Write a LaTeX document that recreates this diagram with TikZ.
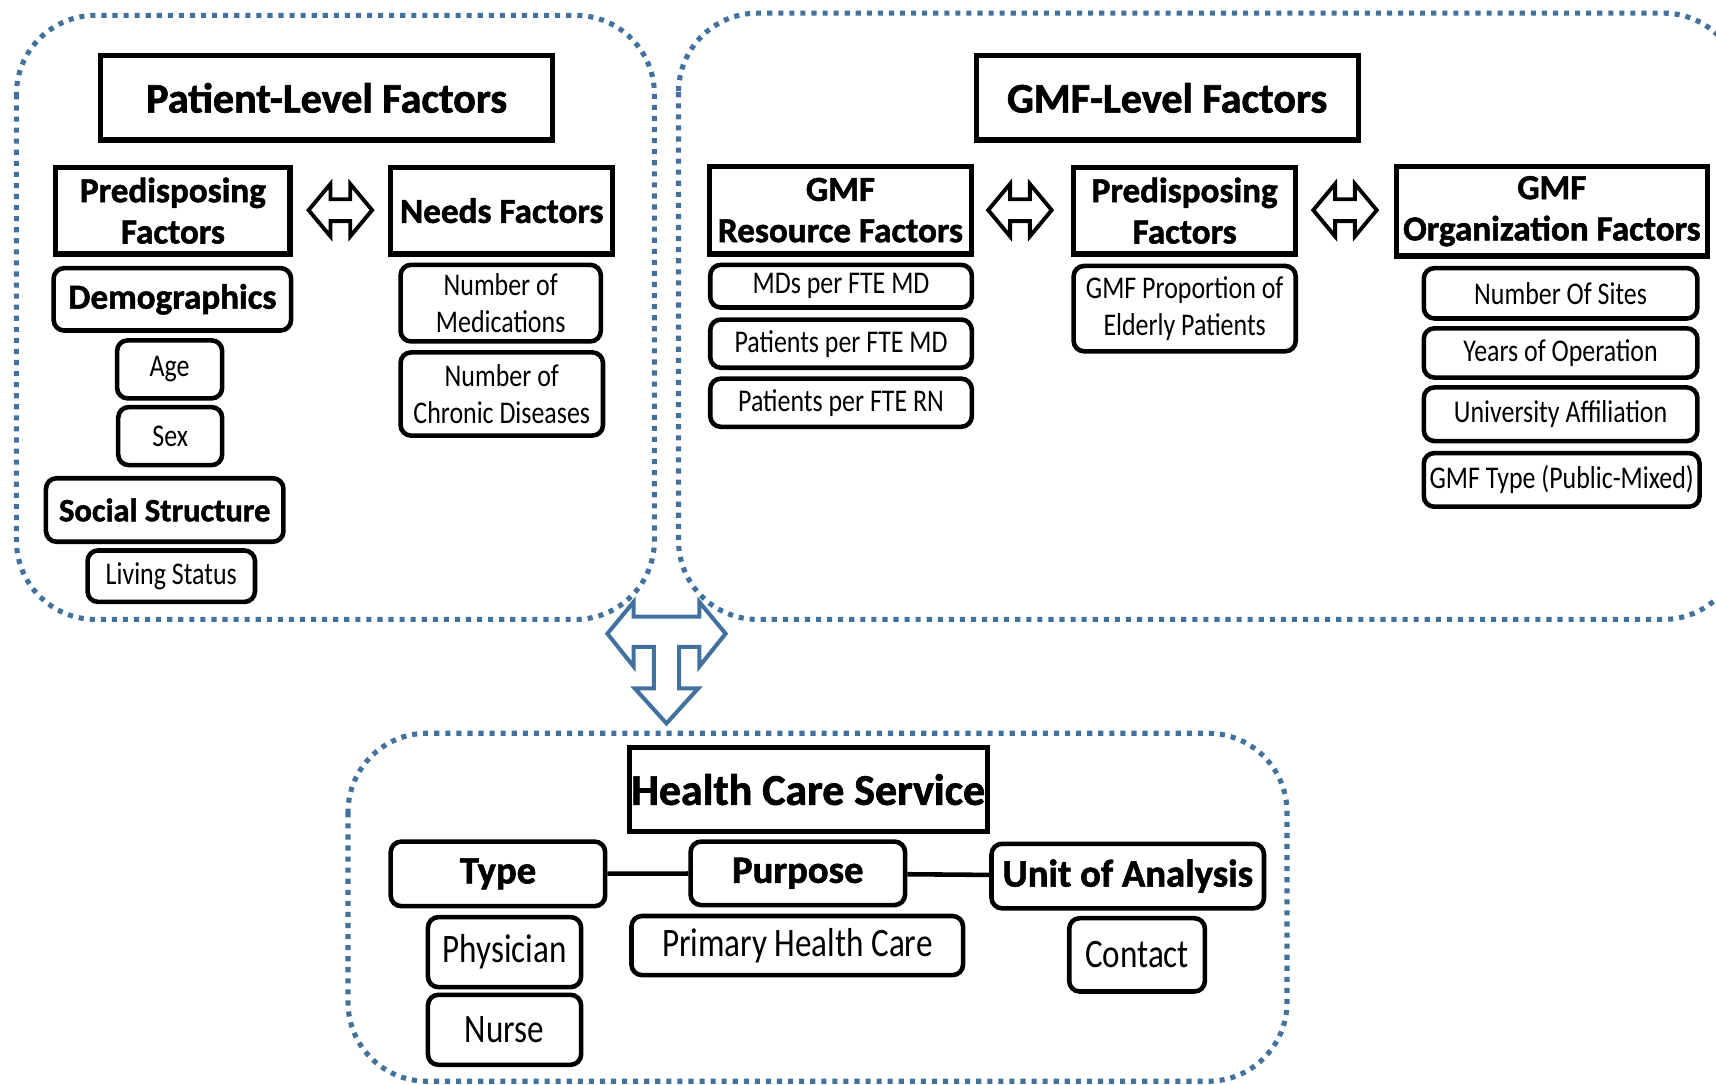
\documentclass[tikz,border=0pt]{standalone}
\usepackage{fontspec}
\setmainfont{Carlito}
\newfontfamily\itemfont{Carlito}[FakeStretch=0.82]
\newfontfamily\headfont{Carlito}[BoldFeatures={FakeBold=1.5}]
\definecolor{regionblue}{RGB}{65,113,156}

\begin{document}
\begin{tikzpicture}[x=0.0219cm, y=-0.0219cm,
  region/.style={draw=regionblue, line width=2.9pt, dash pattern=on 2.9pt off 3.4pt, rounded corners=45pt},
  dims/.style 2 args={minimum width=#1*\unitpx, minimum height=#2*\unitpx},
  titlebox/.style={draw, line width=3pt, inner sep=0pt, font=\headfont\bfseries\fontsize{24}{29}\selectfont},
  groupbox/.style={draw, line width=3pt, inner sep=0pt, align=center, font=\headfont\bfseries\fontsize{20}{23.5}\selectfont},
  subbox/.style={groupbox, rounded corners=6pt, line width=2.6pt},
  itembox/.style={draw, line width=2.6pt, rounded corners=6pt, inner sep=0pt, align=center, font=\itemfont\fontsize{18}{21}\selectfont},
  link/.style={line width=2.6pt}]

\newcommand{\unitpx}{0.0219cm}
\newcommand{\twoway}[1]{%
  \draw[line width=2.2pt, shift={#1}] (-29,0) -- (-9,-24) -- (-9,-10) -- (9,-10) -- (9,-24)
    -- (29,0) -- (9,24) -- (9,10) -- (-9,10) -- (-9,24) -- cycle;}

\useasboundingbox (0,0) rectangle (1568,991);
\clip (0,0) rectangle (1568,991);

% dotted regions
\draw[region] (15,14) rectangle (598,566);
\draw[region] (620,12) rectangle (1592,566);
\draw[region] (318,670) rectangle (1176,988);

% patient level
\node[titlebox, dims={413}{77}] (plf) at (298.5,89.5) {Patient-Level Factors};
\node[groupbox, dims={214}{79}] (ppred) at (158,192.5) {Predisposing\\Factors};
\node[groupbox, dims={203}{79}] (needs) at (458.5,192.5) {Needs Factors};
\twoway{(311,192)}
\node[subbox, dims={217}{57}] (demo) at (157.5,273.5) {Demographics};
\node[itembox, dims={96}{53}] (age) at (155,337.5) {Age};
\node[itembox, dims={95}{53}] (sex) at (155.5,398.5) {Sex};
\node[subbox, dims={217}{58}, font=\headfont\bfseries\fontsize{18.5}{22}\selectfont] (social) at (150.5,466) {Social Structure};
\node[itembox, dims={153}{47}] (living) at (156.5,526.5) {Living Status};
\node[itembox, dims={183}{70}] (nmed) at (457.5,277) {Number of\\Medications};
\node[itembox, dims={185}{76}] (nchron) at (458.5,360) {Number of\\Chronic Diseases};

% gmf level
\node[titlebox, dims={349}{77}] (glf) at (1066.5,89.5) {GMF-Level Factors};
\node[groupbox, dims={240}{80}] (gres) at (768,192) {GMF\\Resource Factors};
\node[groupbox, dims={203}{79}] (gpred) at (1082.5,192.5) {Predisposing\\Factors};
\node[groupbox, dims={284}{82}] (gorg) at (1418,193) {GMF\\Organization Factors};
\twoway{(932,192)}
\twoway{(1229,192)}
\node[itembox, dims={239}{39}] (mds) at (768.5,261.5) {MDs per FTE MD};
\node[itembox, dims={239}{44}] (ppmd) at (768.5,314) {Patients per FTE MD};
\node[itembox, dims={239}{44}] (pprn) at (768.5,368) {Patients per FTE RN};
\node[itembox, dims={203}{78}] (elder) at (1082.5,282) {GMF Proportion of\\Elderly Patients};
\node[itembox, dims={250}{46}] (sites) at (1426,268) {Number Of Sites};
\node[itembox, dims={250}{45}] (years) at (1426,322.5) {Years of Operation};
\node[itembox, dims={250}{49}] (univ) at (1426,378.5) {University Affiliation};
\node[itembox, dims={252}{49}] (gtype) at (1427,438.5) {GMF Type (Public-Mixed)};

% arrow down to the service
\draw[regionblue, line width=2.3pt, shift={(609,0)}]
  (-54,579) -- (-30,550) -- (-30,563.5) -- (30,563.5) -- (30,550) -- (54,579) -- (30,609)
  -- (30,591) -- (11.6,591) -- (11.6,629) -- (29,629) -- (0,661) -- (-29,629) -- (-11.6,629)
  -- (-11.6,591) -- (-30,591) -- (-30,609) -- cycle;

% health care service
\node[titlebox, dims={327}{77}, font=\headfont\bfseries\fontsize{25}{30}\selectfont] (hcs) at (738.5,721.5) {Health Care Service};
\node[subbox, dims={196}{59}, font=\headfont\bfseries\fontsize{22}{26}\selectfont] (type) at (455,798.5) {Type};
\node[subbox, dims={196}{58}, font=\headfont\bfseries\fontsize{22}{26}\selectfont] (purpose) at (729,798) {Purpose};
\node[subbox, dims={249}{59}, font=\headfont\bfseries\fontsize{22}{26}\selectfont] (unit) at (1030.5,800.5) {Unit of Analysis};
\draw[link] (type) -- (purpose);
\draw[link] (purpose) -- (unit);
\node[itembox, dims={140}{64}, font=\itemfont\fontsize{23}{27}\selectfont] (phys) at (461,870) {Physician};
\node[itembox, dims={140}{64}, font=\itemfont\fontsize{23}{27}\selectfont] (nurse) at (461,941) {Nurse};
\node[itembox, dims={303}{54}, font=\itemfont\fontsize{23}{27}\selectfont] (phc) at (728.5,864) {Primary Health Care};
\node[itembox, dims={124}{67}, font=\itemfont\fontsize{23}{27}\selectfont] (contact) at (1039,872.5) {Contact};

\end{tikzpicture}
\end{document}
